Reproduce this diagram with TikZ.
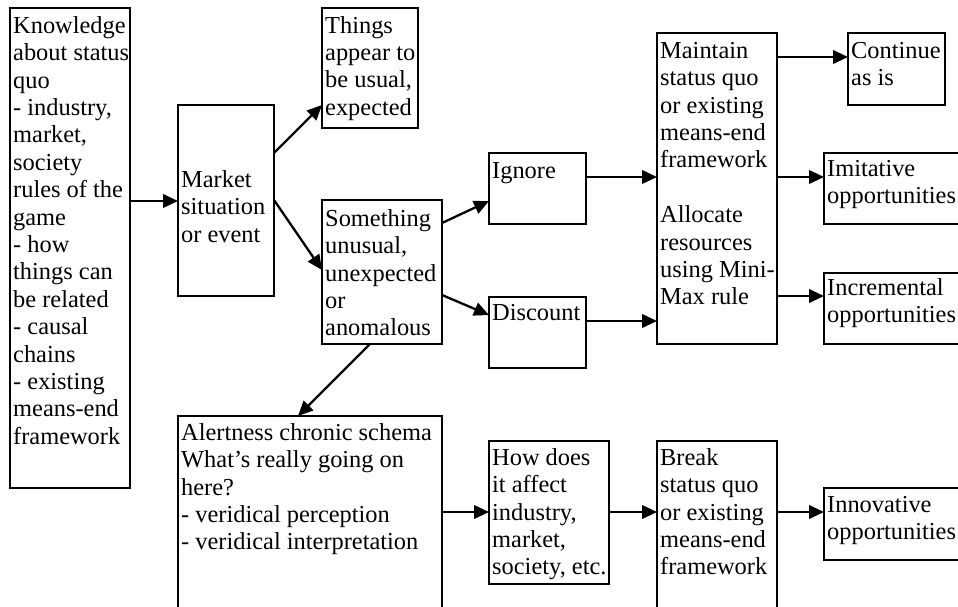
\documentclass[tikz,border=0pt]{standalone}
\usepackage{fontspec}
\setmainfont{Liberation Serif}
\usetikzlibrary{arrows.meta}

\tikzset{
  box/.style={draw, line width=1.9pt, rectangle, inner sep=0pt, outer sep=0pt, anchor=north west},
  btext/.style={anchor=north west, align=left, inner sep=0pt, font=\fontsize{24.4}{27.4}\selectfont},
  link/.style={line width=2.3pt, -{Triangle[length=15pt,width=13.5pt]}},
}

% box: name, left, top, width, height, first-baseline offset, text
\newcommand\diagbox[7]{%
  \node[box, minimum width=#4pt, minimum height=#5pt] (#1) at (#2,#3) {};
  \node[btext] (#1-t) at ([shift={(3,#6-19.18)}]#1.north west) {\strut #7};
}

\begin{document}
\begin{tikzpicture}[x=1pt, y=-1pt]
  \useasboundingbox (0,0) rectangle (958,607);
  \fill[white] (0,0) rectangle (958,607);
  \clip (0,0) rectangle (958,607);

  \diagbox{know}{10}{8}{120}{480}{25}{Knowledge\\about status\\quo\\- industry,\\market,\\society\\rules of the\\game\\- how\\things can\\be related\\- causal\\chains\\- existing\\means-end\\framework}
  \diagbox{market}{178}{105}{96}{191}{82}{Market\\situation\\or event}
  \diagbox{things}{322}{8}{96}{120}{25}{Things\\appear to\\be usual,\\expected}
  \diagbox{unusual}{322}{200}{120}{144}{26}{Something\\unusual,\\unexpected\\or\\anomalous}
  \diagbox{ignore}{489}{153}{97}{71}{25}{Ignore}
  \diagbox{discount}{489}{297}{97}{71}{23}{Discount}
  \diagbox{alert}{178}{416}{264}{224}{24}{Alertness chronic schema\\What’s really going on\\here?\\- veridical perception\\- veridical interpretation}
  \diagbox{affect}{489}{441}{120}{143}{24}{How does\\it affect\\industry,\\market,\\society, etc.}
  \diagbox{maintain}{657}{33}{120}{311}{25}{Maintain\\status quo\\or existing\\means-end\\framework\\[27.4pt]Allocate\\resources\\using Mini-\\Max rule}
  \diagbox{breakq}{657}{441}{120}{199}{24}{Break\\status quo\\or existing\\means-end\\framework}
  \diagbox{continue}{848}{33}{97}{72}{25}{Continue\\as is}
  \diagbox{imit}{824}{153}{156}{71}{23}{Imitative\\opportunities}
  \diagbox{incr}{824}{273}{156}{71}{22}{Incremental\\opportunities}
  \diagbox{innov}{824}{488}{156}{72}{24}{Innovative\\opportunities}

  % connectors
  \draw[link] (know.east |- 0,201) -- (market.west |- 0,201);
  \draw[link] (market.east |- 0,153) -- (things.west |- 0,105);
  \draw[link] (market.east |- 0,200) -- (unusual.west |- 0,270);
  \draw[link] (unusual.east |- 0,223) -- (ignore.west |- 0,201);
  \draw[link] (unusual.east |- 0,295) -- (discount.west |- 0,315);
  \draw[link] (unusual.south -| 370,0) -- (alert.north -| 298,0);
  \draw[link] (ignore.east |- 0,177) -- (maintain.west |- 0,177);
  \draw[link] (discount.east |- 0,321) -- (maintain.west |- 0,321);
  \draw[link] (maintain.east |- 0,57) -- (continue.west |- 0,57);
  \draw[link] (maintain.east |- 0,177) -- (imit.west |- 0,177);
  \draw[link] (maintain.east |- 0,296) -- (incr.west |- 0,296);
  \draw[link] (alert.east |- 0,512) -- (affect.west |- 0,512);
  \draw[link] (affect.east |- 0,512) -- (breakq.west |- 0,512);
  \draw[link] (breakq.east |- 0,512) -- (innov.west |- 0,512);
\end{tikzpicture}
\end{document}
